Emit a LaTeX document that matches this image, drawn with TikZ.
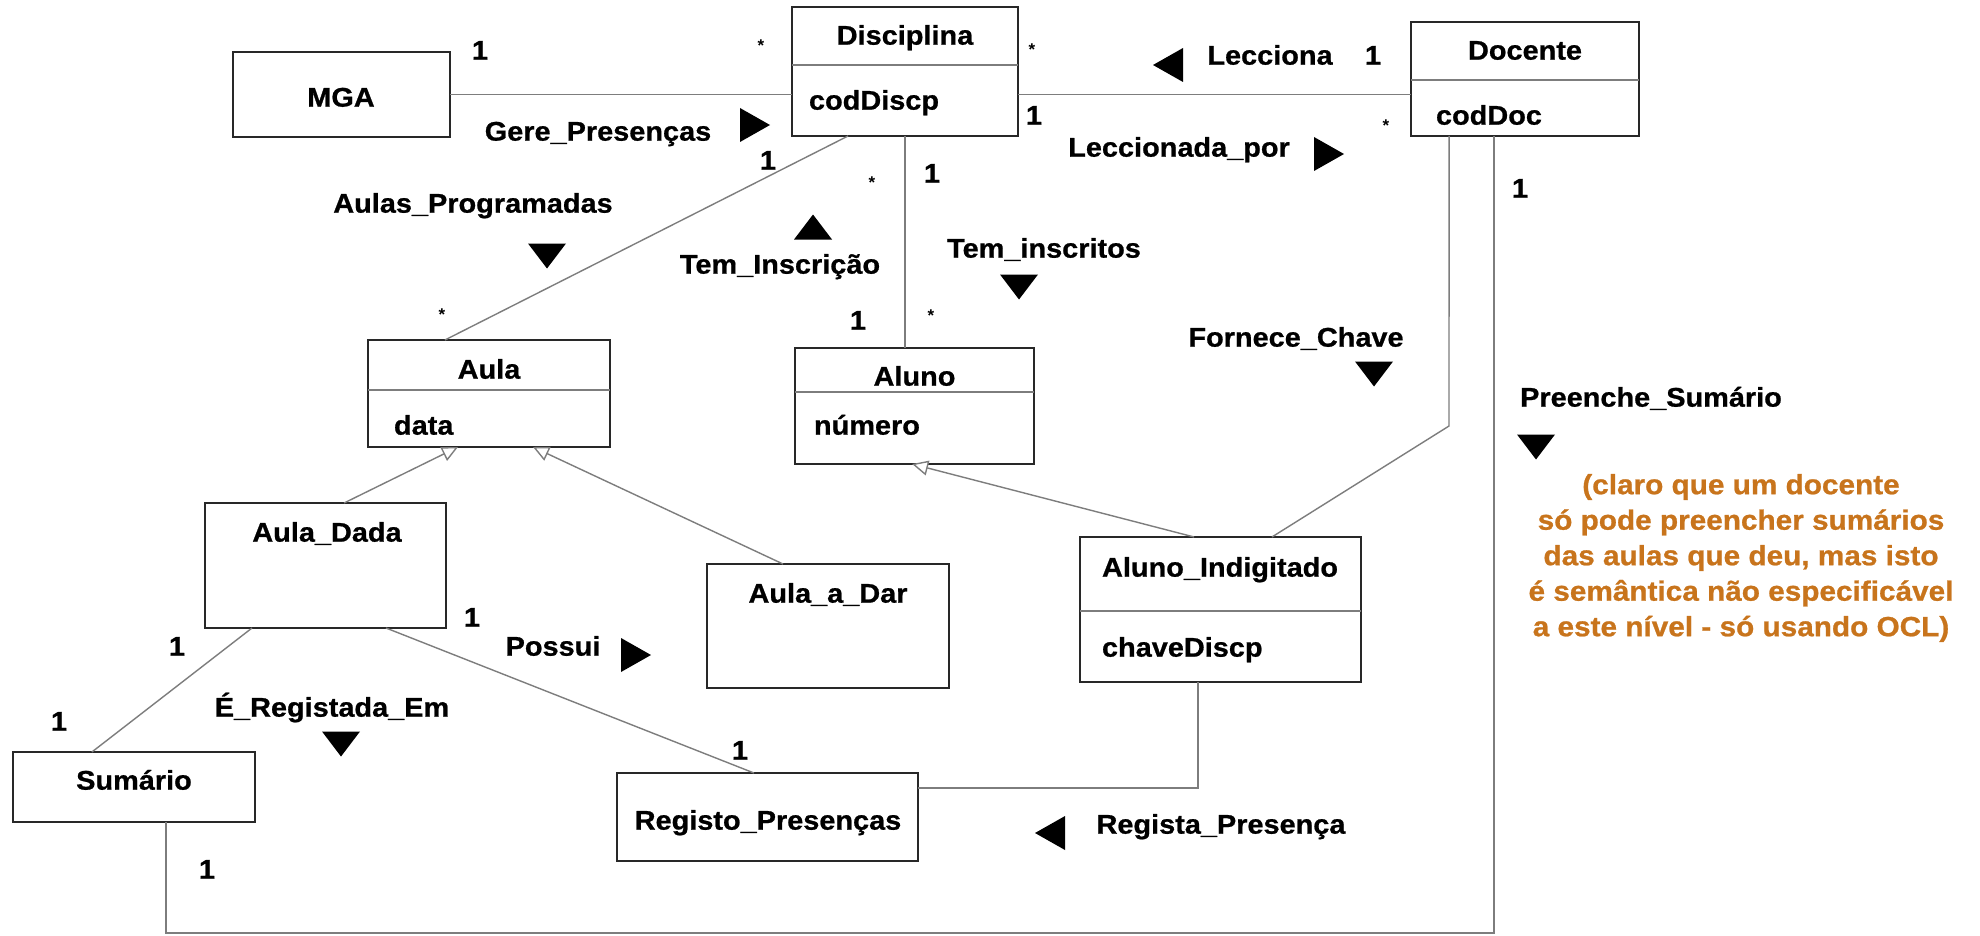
\documentclass[tikz,border=0pt]{standalone}
\usepackage{fontspec}
\setmainfont{Liberation Sans}
\newfontfamily\umlfont{Liberation Sans}[FakeStretch=1.07, FakeBold=0.8]
\usetikzlibrary{arrows.meta,calc}
\definecolor{linegray}{RGB}{125,125,125}
\definecolor{boxline}{RGB}{40,40,40}
\definecolor{noteorange}{RGB}{200,116,28}

\tikzset{
  tridown/.pic={\fill (-19,-12.5) -- (19,-12.5) -- (0,12.5) -- cycle;},
  triup/.pic={\fill (-19,12.5) -- (19,12.5) -- (0,-12.5) -- cycle;},
  triright/.pic={\fill (-15,-17) -- (-15,17) -- (15,0) -- cycle;},
  trileft/.pic={\fill (15,-17) -- (15,17) -- (-15,0) -- cycle;},
}

\begin{document}
\begin{tikzpicture}[x=1pt,y=-1pt,
  every node/.style={inner sep=0pt, outer sep=0pt},
  cls/.style={draw=boxline, line width=2pt, rectangle, inner sep=0pt},
  lbl/.style={font=\umlfont\bfseries\fontsize{27}{32}\selectfont, text height=19.3pt, text depth=0pt},
  attr/.style={lbl, anchor=west},
  star/.style={font=\bfseries\fontsize{17}{20}\selectfont},
  link/.style={draw=linegray, line width=1.4pt},
  divider/.style={draw=linegray, line width=1.6pt},
  isa/.style={link, -{Triangle[open, length=16pt, width=15pt, fill=white]}},
  note/.style={font=\umlfont\bfseries\fontsize{27.8}{35.5}\selectfont, text=noteorange, align=center},
]
\fill[white] (0,0) rectangle (1980,936);
\useasboundingbox (0,0) rectangle (1980,936);

% ---------- classes ----------
\node[cls, minimum width=217pt, minimum height=85pt]  (mga)   at (341.5,94.5) {};
\node[cls, minimum width=226pt, minimum height=129pt] (disc)  at (905,71.5) {};
\node[cls, minimum width=228pt, minimum height=114pt] (doc)   at (1525,79) {};
\node[cls, minimum width=242pt, minimum height=107pt] (aula)  at (489,393.5) {};
\node[cls, minimum width=239pt, minimum height=116pt] (aluno) at (914.5,406) {};
\node[cls, minimum width=241pt, minimum height=125pt] (ad)    at (325.5,565.5) {};
\node[cls, minimum width=242pt, minimum height=124pt] (adar)  at (828,626) {};
\node[cls, minimum width=281pt, minimum height=145pt] (ai)    at (1220.5,609.5) {};
\node[cls, minimum width=242pt, minimum height=70pt]  (sum)   at (134,787) {};
\node[cls, minimum width=301pt, minimum height=88pt]  (reg)   at (767.5,817) {};

% compartment dividers
\draw[divider] ($(disc.north west)+(0,58)$) -- ($(disc.north east)+(0,58)$);
\draw[divider] ($(doc.north west)+(0,58)$) -- ($(doc.north east)+(0,58)$);
\draw[divider] ($(aula.north west)+(0,50)$) -- ($(aula.north east)+(0,50)$);
\draw[divider] ($(aluno.north west)+(0,44)$) -- ($(aluno.north east)+(0,44)$);
\draw[divider] ($(ai.north west)+(0,74)$) -- ($(ai.north east)+(0,74)$);

% class names and attributes
\node[lbl] (tmga)   at (341,97)    {MGA};
\node[lbl] (tdisc)  at (905,35)    {Disciplina};
\node[attr] (adisc) at (809,100)   {codDiscp};
\node[lbl] (tdoc)   at (1525,50)   {Docente};
\node[attr] (adoc)  at (1436,115)  {codDoc};
\node[lbl] (taula)  at (489,369)   {Aula};
\node[attr] (aaula) at (394,425)   {data};
\node[lbl] (taluno) at (914.5,376) {Aluno};
\node[attr] (aaluno) at (814,425)  {número};
\node[lbl] (tad)    at (327,532)   {Aula\_Dada};
\node[lbl] (tadar)  at (828,593)   {Aula\_a\_Dar};
\node[lbl] (tai)    at (1220,567)  {Aluno\_Indigitado};
\node[attr] (aai)   at (1102,647)  {chaveDiscp};
\node[lbl] (tsum)   at (134,780)   {Sumário};
\node[lbl] (treg)   at (768,820)   {Registo\_Presenças};

% ---------- associations ----------
\draw[link] (mga.east) -- (mga.east -| disc.west);
\draw[link] (mga.east -| disc.east) -- (mga.east -| doc.west);
\draw[link] ($(disc.south west)!0.248!(disc.south east)$) -- ($(aula.north west)!0.318!(aula.north east)$);
\draw[link] (disc.south) -- (disc.south |- aluno.north);

\coordinate (keytop) at ($(doc.south west)!0.167!(doc.south east)$);
\coordinate (keybend) at (1449,426);
\draw[link] (keytop) -- (keybend) -- ($(ai.north west)!0.683!(ai.north east)$);

\coordinate (runbase) at (0,933);
\coordinate (psA) at ($(doc.south west)!0.364!(doc.south east)$);
\coordinate (psB) at ($(sum.south west)!0.632!(sum.south east)$);
\draw[link] (psA) -- (psA |- runbase) -- (psB |- runbase) -- (psB);

\draw[link] ($(ad.south west)!0.195!(ad.south east)$) -- ($(sum.north west)!0.326!(sum.north east)$);
\draw[link] ($(ad.south west)!0.751!(ad.south east)$) -- ($(reg.north west)!0.455!(reg.north east)$);

\coordinate (rpA) at ($(ai.south west)!0.42!(ai.south east)$);
\draw[link] ($(reg.north east)+(0,15)$) -| (rpA);

% ---------- generalisations ----------
\draw[isa] ($(ad.north west)!0.577!(ad.north east)$) -- ($(aula.south west)!0.372!(aula.south east)$);
\draw[isa] ($(adar.north west)!0.314!(adar.north east)$) -- ($(aula.south west)!0.682!(aula.south east)$);
\draw[isa] ($(ai.north west)!0.406!(ai.north east)$) -- ($(aluno.south west)!0.49!(aluno.south east)$);

% ---------- multiplicities ----------
\node[lbl]  (m1)  at (480,50)   {1};
\node[star] (m2)  at (761,46)   {*};
\node[lbl]  (m3)  at (768,160)  {1};
\node[star] (m4)  at (1032,50)  {*};
\node[lbl]  (m5)  at (1034,115) {1};
\node[lbl]  (m6)  at (1373,55)  {1};
\node[star] (m7)  at (1386,126) {*};
\node[lbl]  (m8)  at (1520,188) {1};
\node[star] (m9)  at (872,183)  {*};
\node[lbl]  (m10) at (932,173)  {1};
\node[star] (m11) at (442,315)  {*};
\node[lbl]  (m12) at (858,320)  {1};
\node[star] (m13) at (931,316)  {*};
\node[lbl]  (m14) at (472,617)  {1};
\node[lbl]  (m15) at (177,646)  {1};
\node[lbl]  (m16) at (59,721)   {1};
\node[lbl]  (m17) at (740,750)  {1};
\node[lbl]  (m18) at (207,869)  {1};

% ---------- association names ----------
\node[lbl] (lgere) at (598,131)  {Gere\_Presenças};
\pic at (755,125) {triright};
\node[lbl] (llec)  at (1270,55)  {Lecciona};
\pic at (1168,65) {trileft};
\node[lbl] (llecp) at (1179,147) {Leccionada\_por};
\pic at (1329,154) {triright};
\node[lbl] (lprog) at (473,203)  {Aulas\_Programadas};
\pic at (547,256) {tridown};
\node[lbl] (lins)  at (780,264)  {Tem\_Inscrição};
\pic at (813,227) {triup};
\node[lbl] (linsc) at (1044,248) {Tem\_inscritos};
\pic at (1019,287) {tridown};
\node[lbl] (lchave) at (1296,337) {Fornece\_Chave};
\pic at (1374,374) {tridown};
\node[lbl] (lpre)  at (1651,397) {Preenche\_Sumário};
\pic at (1536,447) {tridown};
\node[lbl] (lposs) at (553,646)  {Possui};
\pic at (636,655) {triright};
\node[lbl] (lreg)  at (332,707)  {É\_Registada\_Em};
\pic at (341,744) {tridown};
\node[lbl] (lrp)   at (1221,824) {Regista\_Presença};
\pic at (1050,833) {trileft};

% ---------- note ----------
\node[note] (remark) at (1741,558) {(claro que um docente\\só pode preencher sumários\\das aulas que deu, mas isto\\é semântica não especificável\\a este nível - só usando OCL)};
\end{tikzpicture}
\end{document}
